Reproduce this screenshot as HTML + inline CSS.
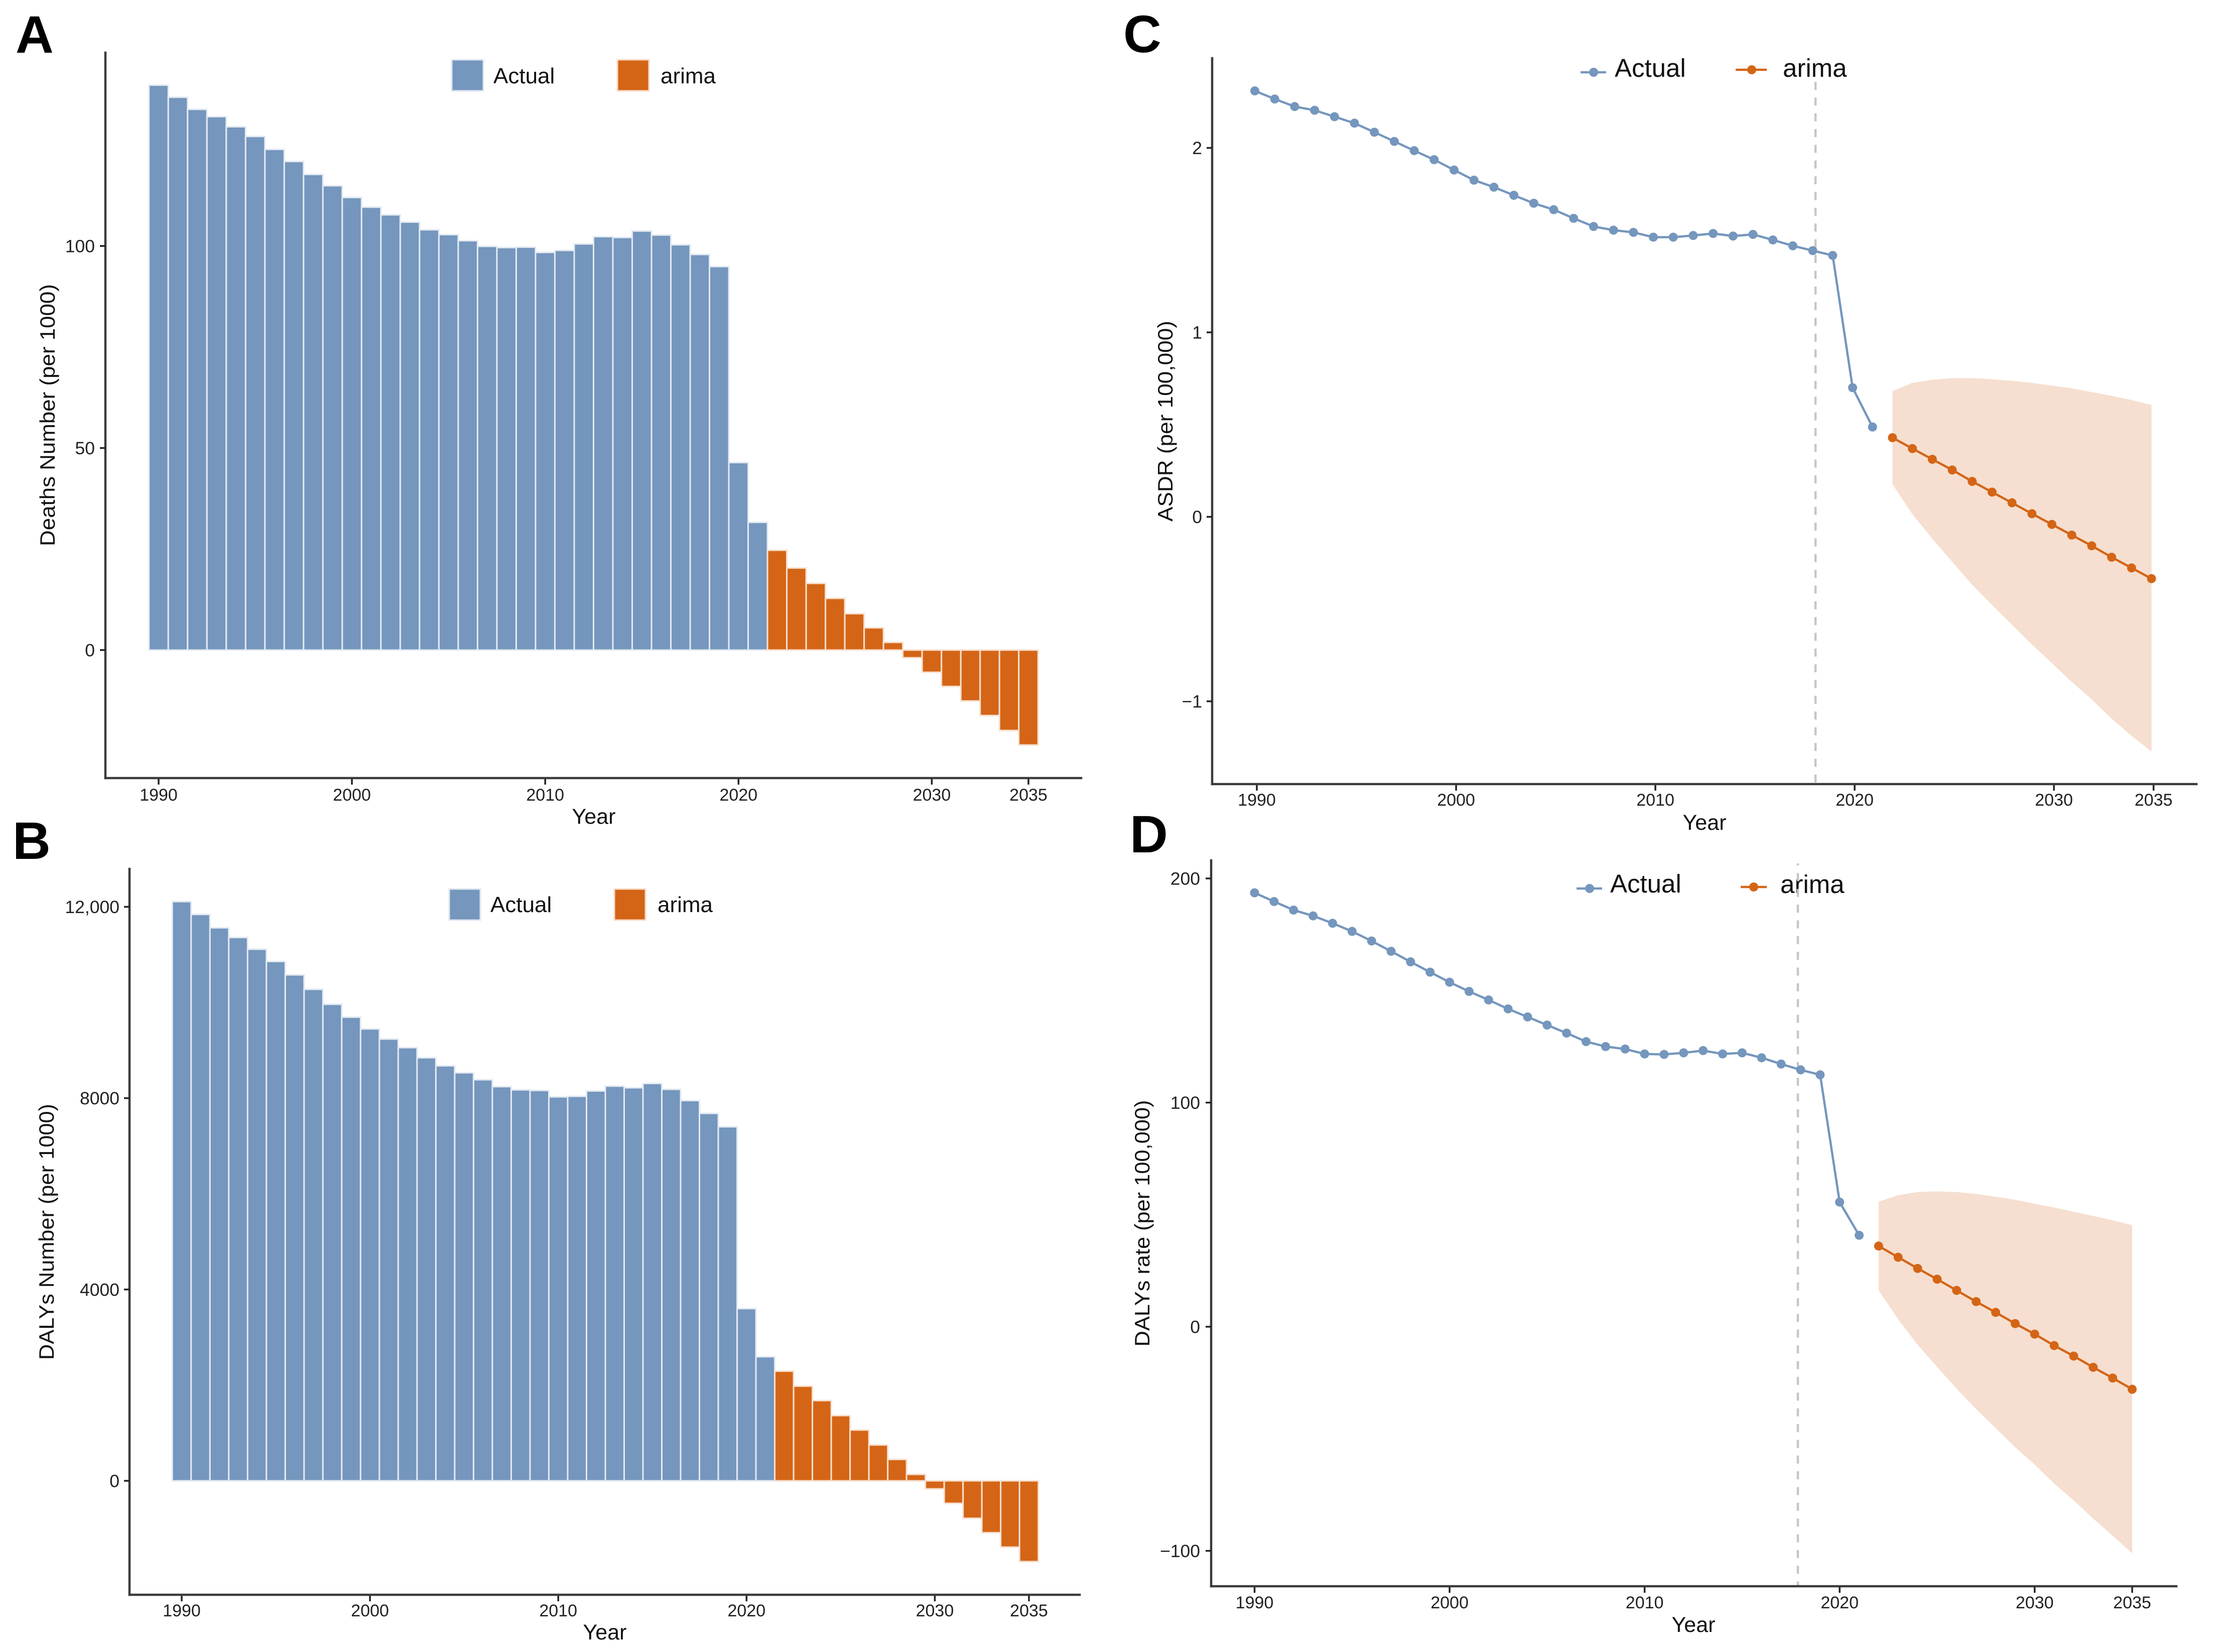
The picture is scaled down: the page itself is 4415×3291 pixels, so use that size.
<!DOCTYPE html>
<html lang="en">
<head>
<meta charset="utf-8">
<title>Deaths and DALYs forecast, 1990-2035</title>
<style>
html,body{margin:0;padding:0;background:#fff;}
svg{display:block;}
text{font-family:"Liberation Sans",sans-serif;}
.tick-text{font-size:34px;fill:#222;}
.tick-text-y{font-size:35.5px;fill:#222;}
.axis-title{font-size:43px;fill:#111;text-anchor:middle;}
.y-title{font-size:42px;fill:#111;text-anchor:middle;}
.legend-bar{font-size:44px;fill:#111;}
.legend-line{font-size:51px;fill:#111;}
.panel-letter{font-size:105px;font-weight:bold;fill:#000;}
.spine{stroke:#3a3a3a;stroke-width:4.5;stroke-linecap:square;}
</style>
</head>
<body>
<svg id="figure" xmlns="http://www.w3.org/2000/svg" width="4415" height="3291" viewBox="0 0 4415 3291">
  <rect x="0" y="0" width="4415" height="3291" fill="#fff"/>

  <g id="panel-a">
    <text class="panel-letter" x="31" y="105">A</text>
    <g id="marks-a"></g>
    <line class="spine" x1="210" y1="105" x2="210" y2="1550"/>
    <line class="spine" x1="210" y1="1550" x2="2154" y2="1550"/>
    <g id="axes-a"></g>
    <text class="axis-title" x="1183" y="1641">Year</text>
    <text class="y-title" transform="translate(109 827) rotate(-90)" textLength="522" lengthAdjust="spacingAndGlyphs">Deaths Number (per 1000)</text>
    <g>
      <rect x="900" y="119" width="63" height="62" fill="#7596bd" stroke="#dfe7f0" stroke-width="3"/>
      <text class="legend-bar" x="983" y="166">Actual</text>
      <rect x="1230" y="119" width="63" height="62" fill="#d46516" stroke="#f7dcc9" stroke-width="3"/>
      <text class="legend-bar" x="1316" y="166">arima</text>
    </g>
  </g>

  <g id="panel-b">
    <text class="panel-letter" x="25" y="1711">B</text>
    <g id="marks-b"></g>
    <line class="spine" x1="258" y1="1731" x2="258" y2="3177"/>
    <line class="spine" x1="258" y1="3177" x2="2151" y2="3177"/>
    <g id="axes-b"></g>
    <text class="axis-title" x="1205" y="3266">Year</text>
    <text class="y-title" transform="translate(107 2454) rotate(-90)" textLength="510" lengthAdjust="spacingAndGlyphs">DALYs Number (per 1000)</text>
    <g>
      <rect x="895" y="1771" width="62" height="62" fill="#7596bd" stroke="#dfe7f0" stroke-width="3"/>
      <text class="legend-bar" x="977" y="1817">Actual</text>
      <rect x="1224" y="1771" width="62" height="62" fill="#d46516" stroke="#f7dcc9" stroke-width="3"/>
      <text class="legend-bar" x="1310" y="1817">arima</text>
    </g>
  </g>

  <g id="panel-c">
    <text class="panel-letter" x="2238" y="104">C</text>
    <g id="marks-c"></g>
    <line class="spine" x1="2415" y1="116" x2="2415" y2="1562"/>
    <line class="spine" x1="2415" y1="1562" x2="4376" y2="1562"/>
    <g id="axes-c"></g>
    <text class="axis-title" x="3396" y="1653">Year</text>
    <text class="y-title" transform="translate(2336 839) rotate(-90)" textLength="400" lengthAdjust="spacingAndGlyphs">ASDR (per 100,000)</text>
    <g>
      <line x1="3149" y1="144" x2="3200" y2="144" stroke="#7596bd" stroke-width="4.5"/>
      <circle cx="3175" cy="144" r="9" fill="#7596bd"/>
      <text class="legend-line" x="3217" y="153">Actual</text>
      <line x1="3458" y1="139" x2="3520" y2="139" stroke="#d46516" stroke-width="4.5"/>
      <circle cx="3490" cy="139" r="9" fill="#d46516"/>
      <text class="legend-line" x="3552" y="153">arima</text>
    </g>
  </g>

  <g id="panel-d">
    <text class="panel-letter" x="2251" y="1698">D</text>
    <g>
      <line x1="3141" y1="1770" x2="3192" y2="1770" stroke="#7596bd" stroke-width="4.5"/>
      <circle cx="3167" cy="1770" r="9" fill="#7596bd"/>
      <text class="legend-line" x="3208" y="1778">Actual</text>
      <line x1="3468" y1="1767" x2="3520" y2="1767" stroke="#d46516" stroke-width="4.5"/>
      <circle cx="3494" cy="1767" r="9" fill="#d46516"/>
      <text class="legend-line" x="3547" y="1779">arima</text>
    </g>
    <g id="marks-d"></g>
    <line class="spine" x1="2413" y1="1714" x2="2413" y2="3160"/>
    <line class="spine" x1="2413" y1="3160" x2="4336" y2="3160"/>
    <g id="axes-d"></g>
    <text class="axis-title" x="3374" y="3251">Year</text>
    <text class="y-title" transform="translate(2290 2437) rotate(-90)" textLength="491" lengthAdjust="spacingAndGlyphs">DALYs rate (per 100,000)</text>
  </g>
</svg>

<script>
const yearsActual = [1990,1991,1992,1993,1994,1995,1996,1997,1998,1999,2000,2001,2002,2003,2004,2005,2006,2007,2008,2009,2010,2011,2012,2013,2014,2015,2016,2017,2018,2019,2020,2021];
const yearsForecast = [2022,2023,2024,2025,2026,2027,2028,2029,2030,2031,2032,2033,2034,2035];
const xTickYears = [1990,2000,2010,2020,2030,2035];
const cutoffYearLabel = 2018;

const deathsActual = [139.8,136.8,133.8,132,129.5,127.1,123.9,120.9,117.7,114.9,112,109.6,107.7,105.9,104,102.8,101.3,99.9,99.6,99.7,98.4,98.9,100.5,102.3,102.1,103.7,102.7,100.3,97.9,94.9,46.4,31.6];
const deathsForecast = [24.7,20.3,16.5,12.8,9,5.5,1.9,-1.9,-5.5,-9,-12.6,-16.2,-19.9,-23.5];
const deathsTicks = [0,50,100];
const deathsTickLabels = ['0','50','100'];

const dalysActual = [12109,11841,11561,11359,11113,10857,10577,10275,9962,9693,9447,9235,9056,8844,8676,8530,8385,8240,8173,8161,8027,8038,8150,8251,8217,8307,8184,7949,7681,7401,3600,2594];
const dalysForecast = [2292,1979,1677,1364,1062,749,447,134,-168,-470,-783,-1084,-1386,-1688];
const dalysTicks = [0,4000,8000,12000];
const dalysTickLabels = ['0','4000','8000','12,000'];

const asdrActual = [2.309,2.265,2.224,2.204,2.169,2.134,2.085,2.035,1.985,1.936,1.880,1.825,1.787,1.743,1.700,1.665,1.618,1.574,1.554,1.542,1.516,1.516,1.525,1.536,1.522,1.531,1.501,1.469,1.443,1.417,0.700,0.487];
const asdrForecast = [0.429,0.370,0.312,0.254,0.192,0.134,0.076,0.017,-0.041,-0.099,-0.157,-0.219,-0.277,-0.335];
const asdrUpper = [0.682,0.726,0.743,0.752,0.752,0.746,0.737,0.726,0.711,0.697,0.676,0.656,0.633,0.606];
const asdrLower = [0.176,0.014,-0.119,-0.244,-0.368,-0.478,-0.585,-0.692,-0.793,-0.895,-0.990,-1.094,-1.187,-1.272];
const asdrTicks = [-1,0,1,2];
const asdrTickLabels = ['\u22121','0','1','2'];

const rateActual = [193.6,189.7,185.9,183.3,180,176.4,172.1,167.5,162.8,158.2,153.7,149.6,145.8,141.8,138.2,134.6,131,127.2,125,123.9,121.7,121.5,122.2,123.2,121.7,122.2,120,117.2,114.6,112.4,55.6,40.8];
const rateForecast = [36,31,26,21.2,16.2,11.2,6.4,1.4,-3.3,-8.4,-13.1,-18.1,-22.9,-27.9];
const rateUpper = [55.8,58.7,60.1,60.4,60.1,59.2,58,56.6,54.9,53.2,51.3,49.4,47.5,45.3];
const rateLower = [16.2,3.3,-8.1,-18,-27.7,-36.8,-45.2,-53.8,-61.5,-70,-77.5,-85.6,-93.3,-101.1];
const rateTicks = [-100,0,100,200];
const rateTickLabels = ['\u2212100','0','100','200'];

const SVG_NS = 'http://www.w3.org/2000/svg';
const BLUE = '#7596bd';
const ORANGE = '#d46516';

function linear(d0, d1, r0, r1) {
  return function (v) { return r0 + (v - d0) * (r1 - r0) / (d1 - d0); };
}
function make(tag, parent) {
  const el = document.createElementNS(SVG_NS, tag);
  parent.appendChild(el);
  return el;
}

function drawAxes(groupId, suffix, xScale, yScale, yTicks, yLabels, spineX, axisY, xLabelY, yLabelX) {
  const g = document.getElementById(groupId);
  xTickYears.forEach(function (yr) {
    const px = xScale(yr);
    const tick = make('line', g);
    
    
    tick.setAttribute('x1', px); tick.setAttribute('x2', px);
    tick.setAttribute('y1', axisY); tick.setAttribute('y2', axisY + 11);
    tick.setAttribute('stroke', '#222'); tick.setAttribute('stroke-width', 3.5);
    const label = make('text', g);
    
    
    label.setAttribute('class', 'tick-text');
    label.setAttribute('x', px); label.setAttribute('y', xLabelY);
    label.setAttribute('text-anchor', 'middle');
    label.textContent = String(yr);
  });
  yTicks.forEach(function (v, i) {
    const py = yScale(v);
    const tick = make('line', g);
    
    
    tick.setAttribute('x1', spineX - 11); tick.setAttribute('x2', spineX);
    tick.setAttribute('y1', py); tick.setAttribute('y2', py);
    tick.setAttribute('stroke', '#222'); tick.setAttribute('stroke-width', 3.5);
    const label = make('text', g);
    
    
    label.setAttribute('class', 'tick-text-y');
    label.setAttribute('x', yLabelX); label.setAttribute('y', py + 12.5);
    label.setAttribute('text-anchor', 'end');
    label.textContent = yLabels[i];
  });
}

function drawBars(groupId, seriesName, years, values, xScale, yScale, fill, edge) {
  const g = document.getElementById(groupId);
  const step = Math.abs(xScale(1) - xScale(0));
  const y0 = yScale(0);
  years.forEach(function (yr, i) {
    const y1 = yScale(values[i]);
    const bar = make('rect', g);
    
    
    bar.setAttribute('x', xScale(yr) - step / 2);
    bar.setAttribute('width', step);
    bar.setAttribute('y', Math.min(y0, y1));
    bar.setAttribute('height', Math.abs(y1 - y0));
    bar.setAttribute('fill', fill);
    bar.setAttribute('stroke', edge);
    bar.setAttribute('stroke-width', 3);
  });
}

function drawBand(groupId, seriesName, years, upper, lower, xScale, yScale) {
  const g = document.getElementById(groupId);
  const top = years.map(function (yr, i) { return xScale(yr) + ',' + yScale(upper[i]); });
  const bottom = years.map(function (yr, i) { return xScale(yr) + ',' + yScale(lower[i]); }).reverse();
  const band = make('polygon', g);
  
  
  band.setAttribute('points', top.concat(bottom).join(' '));
  band.setAttribute('fill', '#f6dfd0');
}

function drawSeries(groupId, seriesName, years, values, xScale, yScale, color) {
  const g = document.getElementById(groupId);
  const line = make('polyline', g);
  
  
  line.setAttribute('points', years.map(function (yr, i) { return xScale(yr) + ',' + yScale(values[i]); }).join(' '));
  line.setAttribute('fill', 'none');
  line.setAttribute('stroke', color);
  line.setAttribute('stroke-width', 4.5);
  years.forEach(function (yr, i) {
    const pt = make('circle', g);
    
    
    pt.setAttribute('cx', xScale(yr));
    pt.setAttribute('cy', yScale(values[i]));
    pt.setAttribute('r', 9);
    pt.setAttribute('fill', color);
  });
}

function drawCutoff(groupId, name, px, y1, y2, offset) {
  const g = document.getElementById(groupId);
  const line = make('line', g);
  
  
  line.setAttribute('x1', px); line.setAttribute('x2', px);
  line.setAttribute('y1', y1); line.setAttribute('y2', y2);
  line.setAttribute('stroke', '#c6c6c6');
  line.setAttribute('stroke-width', 4.5);
  line.setAttribute('stroke-dasharray', '16 15.36');
  line.setAttribute('stroke-dashoffset', offset);
}

/* Panel A */
const xA = linear(1990, 2035, 316, 2049);
const yA = linear(0, 100, 1295, 490);
drawBars('marks-a', 'deaths-actual', yearsActual, deathsActual, xA, yA, BLUE, '#e3eaf2');
drawBars('marks-a', 'deaths-arima', yearsForecast, deathsForecast, xA, yA, ORANGE, '#f8e0cf');
drawAxes('axes-a', 'a', xA, yA, deathsTicks, deathsTickLabels, 210, 1552, 1595, 189);

/* Panel B */
const xB = linear(1990, 2035, 362, 2050);
const yB = linear(0, 12000, 2950, 1806.5);
drawBars('marks-b', 'dalys-actual', yearsActual, dalysActual, xB, yB, BLUE, '#e3eaf2');
drawBars('marks-b', 'dalys-arima', yearsForecast, dalysForecast, xB, yB, ORANGE, '#f8e0cf');
drawAxes('axes-b', 'b', xB, yB, dalysTicks, dalysTickLabels, 258, 3179, 3220, 238);

/* Panel C */
const xC = linear(1990, 2035, 2500, 4286.5);
const xTickC = linear(1990, 2035, 2504, 4290.6);
const yC = linear(0, 2, 1029.6, 294.6);
drawBand('marks-c', 'asdr', yearsForecast, asdrUpper, asdrLower, xC, yC);
drawCutoff('marks-c', 'cutoff-line-c', xC(cutoffYearLabel) + 5.5, 163, 1560, 0);
drawSeries('marks-c', 'asdr-actual', yearsActual, asdrActual, xC, yC, BLUE);
drawSeries('marks-c', 'asdr-arima', yearsForecast, asdrForecast, xC, yC, ORANGE);
drawAxes('axes-c', 'c', xTickC, yC, asdrTicks, asdrTickLabels, 2415, 1564, 1605, 2395);

/* Panel D */
const xD = linear(1990, 2035, 2499.5, 4248);
const yD = linear(0, 200, 2643, 1750);
drawBand('marks-d', 'dalys-rate', yearsForecast, rateUpper, rateLower, xD, yD);
drawCutoff('marks-d', 'cutoff-line-d', xD(cutoffYearLabel) - 5.5, 1720, 3158, 12);
drawSeries('marks-d', 'dalys-rate-actual', yearsActual, rateActual, xD, yD, BLUE);
drawSeries('marks-d', 'dalys-rate-arima', yearsForecast, rateForecast, xD, yD, ORANGE);
drawAxes('axes-d', 'd', xD, yD, rateTicks, rateTickLabels, 2413, 3162, 3204, 2391);
</script>
</body>
</html>
